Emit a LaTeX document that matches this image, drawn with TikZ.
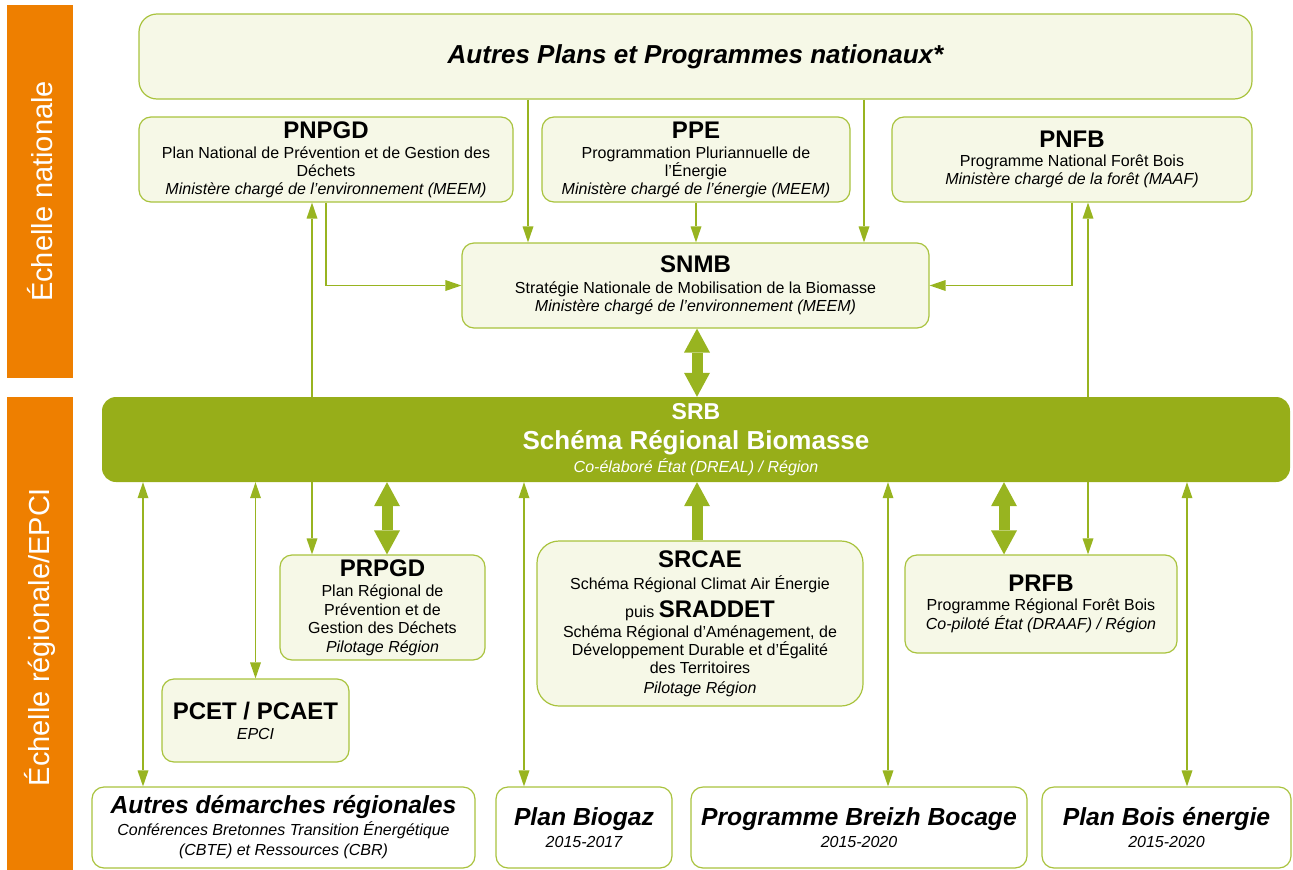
\documentclass[tikz,border=0pt]{standalone}
\usepackage{fontspec}
\setmainfont{Liberation Sans}
\usetikzlibrary{arrows.meta}
\definecolor{orangeband}{HTML}{EE7F00}
\definecolor{srbgreen}{HTML}{97AE19}
\definecolor{boxfill}{HTML}{F6F8E7}
\definecolor{boxline}{HTML}{A9C33E}
\definecolor{arrowgreen}{HTML}{98B420}
\newcommand{\acr}[1]{{\fontsize{24}{26}\selectfont\bfseries #1}}
\newcommand{\ttl}[1]{{\fontsize{24.7}{26}\selectfont\bfseries\itshape #1}}
\begin{document}
\begin{tikzpicture}[x=1pt,y=-1pt,
  band/.style={fill=orangeband, draw=none, inner sep=0pt},
  bandlabel/.style={text=white, rotate=90, font=\fontsize{29}{32}\selectfont},
  box/.style={draw=boxline, line width=1.2pt, fill=boxfill, rounded corners=12pt,
    inner sep=0pt, align=center, text=black, font=\fontsize{16}{18}\selectfont},
  wbox/.style={box, fill=white},
  thinarr/.style={draw=arrowgreen, line width=1.1pt,
    >={Triangle[width=11pt,length=16pt,line width=0pt]}},
  thickarr/.style={draw=arrowgreen, line width=11pt,
    >={Triangle[width=26pt,length=24pt,line width=0pt]}}
]
\useasboundingbox (0,0) rectangle (1293,870);
% bands
\node[band, minimum width=66pt, minimum height=373pt] (band1) at (40,191.5) {};
\node[bandlabel] (lab1) at (band1.center) {Échelle nationale};
\node[band, minimum width=66pt, minimum height=473pt] (band2) at (40,633.5) {};
\node[bandlabel] (lab2) at (40,637) {Échelle régionale/EPCI};

% x positions
\coordinate (xa) at (528,0);
\coordinate (xb) at (864,0);
\coordinate (xc) at (312,0);
\coordinate (xd) at (1088,0);
\coordinate (xe) at (143,0);
\coordinate (xf) at (387,0);
\coordinate (xg) at (524,0);
\coordinate (xh) at (697,0);
\coordinate (xi) at (888,0);
\coordinate (xj) at (1004,0);
\coordinate (xk) at (1187,0);
\coordinate (xl) at (326,0);
\coordinate (xm) at (1072,0);

% national boxes
\node[box, rounded corners=18pt, minimum width=1113pt, minimum height=85pt] (autres) at (695.5,56.5)
  {\fontsize{26}{28}\selectfont\bfseries\itshape Autres Plans et Programmes nationaux*};
\node[box, minimum width=374pt, minimum height=85pt] (pnpgd) at (326,159.5)
  {\acr{PNPGD}\\[2pt] Plan National de Prévention et de Gestion des\\ Déchets\\ \itshape Ministère chargé de l’environnement (MEEM)};
\node[box, minimum width=308pt, minimum height=85pt] (ppe) at (696,159.5)
  {\acr{PPE}\\[2pt] Programmation Pluriannuelle de\\ l'Énergie\\ \itshape Ministère chargé de l’énergie (MEEM)};
\node[box, minimum width=360pt, minimum height=85pt] (pnfb) at (1072,159.5)
  {\acr{PNFB}\\[1pt] Programme National Forêt Bois\\ \itshape Ministère chargé de la forêt (MAAF)};
\node[box, minimum width=467pt, minimum height=85pt] (snmb) at (695.5,285.5)
  {\acr{SNMB}\\[3pt] Stratégie Nationale de Mobilisation de la Biomasse\\ \itshape Ministère chargé de l’environnement (MEEM)};

% regional boxes
\node[box, minimum width=205pt, minimum height=105pt] (prpgd) at (382.5,607.5)
  {\acr{PRPGD}\\[2pt] Plan Régional de\\[1pt] Prévention et de\\ Gestion des Déchets\\[1pt] \itshape Pilotage Région};
\node[box, minimum width=187pt, minimum height=83pt] (pcet) at (255.5,720.5)
  {\acr{PCET / PCAET}\\[2pt] \itshape EPCI};
\node[box, rounded corners=22pt, minimum width=326pt, minimum height=165pt] (srcae) at (700,623.5)
  {\acr{SRCAE}\\[4pt] Schéma Régional Climat Air Énergie\\[7pt] puis \acr{SRADDET}\\[2pt] Schéma Régional d’Aménagement, de\\ Développement Durable et d’Égalité\\ des Territoires\\[2pt] \itshape Pilotage Région};
\node[box, minimum width=272pt, minimum height=98pt] (prfb) at (1041,604)
  {\acr{PRFB}\\[1pt] Programme Régional Forêt Bois\\[1pt] \itshape Co-piloté État (DRAAF) / Région};

% bottom boxes
\node[wbox, minimum width=383pt, minimum height=81pt] (autresdem) at (283.5,827.5)
  {\ttl{Autres démarches régionales}\\[2pt]
   \itshape Conférences Bretonnes Transition Énergétique\\[2pt] \itshape (CBTE) et Ressources (CBR)};
\node[wbox, minimum width=176pt, minimum height=81pt] (biogaz) at (584,827.5)
  {\ttl{Plan Biogaz}\\[4pt] \itshape 2015-2017};
\node[wbox, minimum width=336pt, minimum height=81pt] (breizh) at (859,827.5)
  {\ttl{Programme Breizh Bocage}\\[4pt] \itshape 2015-2020};
\node[wbox, minimum width=249pt, minimum height=81pt] (bois) at (1166.5,827.5)
  {\ttl{Plan Bois énergie}\\[4pt] \itshape 2015-2020};

% long connectors passing behind SRB
\draw[thinarr,<->] (pnpgd.south -| xc) -- (prpgd.north -| xc);
\draw[thinarr,<->] (pnfb.south -| xd) -- (prfb.north -| xd);

% SRB
\node[fill=srbgreen, draw=none, rounded corners=14pt, minimum width=1188pt, minimum height=85pt,
  inner sep=0pt, align=center, text=white, font=\fontsize{16}{18}\selectfont] (srb) at (696,439.5)
  {{\fontsize{23}{24}\selectfont\bfseries SRB}\\[10pt]
   {\fontsize{26}{27}\selectfont\bfseries Schéma Régional Biomasse}\\[2pt]
   \itshape Co-élaboré État (DREAL) / Région};

% national connectors
\draw[thinarr,->] (autres.south -| xa) -- (snmb.north -| xa);
\draw[thinarr,->] (autres.south -| xb) -- (snmb.north -| xb);
\draw[thinarr,->] (ppe.south) -- (snmb.north -| ppe.south);
\draw[thinarr,->] (pnpgd.south -| xl) |- (snmb.west);
\draw[thinarr,->] (pnfb.south -| xm) |- (snmb.east);
\draw[thickarr,<->] (snmb.south -| xh) -- (srb.north -| xh);

% regional connectors
\draw[thinarr,<->] (srb.south -| xe) -- (autresdem.north -| xe);
\draw[thinarr,<->] (srb.south -| pcet.north) -- (pcet.north);
\draw[thickarr,<->] (srb.south -| xf) -- (prpgd.north -| xf);
\draw[thinarr,<->] (srb.south -| xg) -- (biogaz.north -| xg);
\draw[thickarr,->] (srcae.north -| xh) -- (srb.south -| xh);
\draw[thinarr,<->] (srb.south -| xi) -- (breizh.north -| xi);
\draw[thickarr,<->] (srb.south -| xj) -- (prfb.north -| xj);
\draw[thinarr,<->] (srb.south -| xk) -- (bois.north -| xk);
\end{tikzpicture}
\end{document}
